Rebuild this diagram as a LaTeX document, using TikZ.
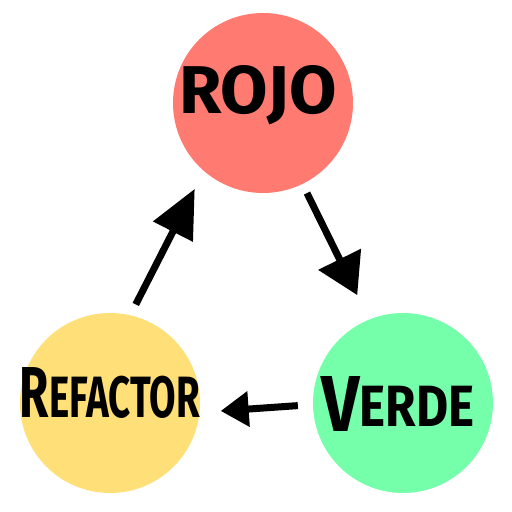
\documentclass[tikz,border=0pt]{standalone}
\usepackage{fontspec}
\setmainfont{Fira Sans}
\usetikzlibrary{arrows.meta}
\definecolor{rojo}{HTML}{FF7A70}
\definecolor{verde}{HTML}{75FFAB}
\definecolor{amarillo}{HTML}{FFDF78}
\tikzset{
  stage/.style={circle,minimum size=180pt,inner sep=0pt,draw=none},
  word/.style={inner sep=0pt,text=black},
  flow/.style={line width=7pt,black},
}
\begin{document}
\begin{tikzpicture}[x=1pt,y=-1pt]
\useasboundingbox (0,0) rectangle (512,512);
\node[stage,fill=rojo] (R) at (263,103) {};
\node[stage,fill=verde] (G) at (403,403) {};
\node[stage,fill=amarillo] (Y) at (110,403) {};
\node[word] (tR) at (258,95) {\resizebox{157pt}{48pt}{\bfseries ROJO}};
\node[word] (tG) at (398,404) {\resizebox{153pt}{55pt}{\bfseries\fontsize{30}{30}\selectfont V\raisebox{2pt}{\fontsize{22}{22}\selectfont ERDE}}};
\node[word] (tY) at (110,393) {\resizebox{180pt}{50pt}{\bfseries\fontsize{26}{26}\selectfont R\fontsize{21}{21}\selectfont EFACTOR}};
\draw[flow,-{Triangle[width=43pt,length=48pt]},shorten <=12pt,shorten >=20pt] (Y.77.6) -- (R.229);
\draw[flow,-{Triangle[width=46pt,length=40pt]},shorten <=10pt,shorten >=27pt] (R.296) -- (G.112.6);
\draw[flow,-{Triangle[width=34pt,length=28pt]},shorten <=15pt,shorten >=21pt] (G.181.6) -- (Y.-6.2);
\end{tikzpicture}
\end{document}
